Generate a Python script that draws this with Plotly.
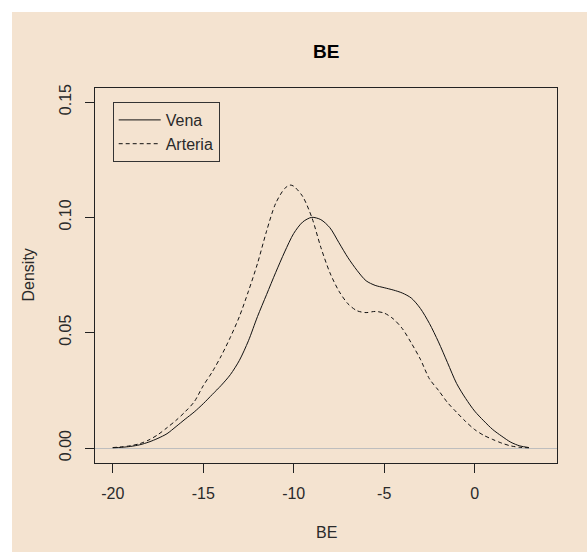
import plotly.graph_objects as go

# ---- data ----
vena_x = [-20, -19.5, -19, -18.5, -18, -17.5, -17, -16.5, -16, -15.5, -15, -14.5, -14, -13.5,
          -13, -12.5, -12, -11.5, -11, -10.5, -10, -9.5, -9, -8.5, -8, -7.5, -7, -6.5, -6,
          -5.5, -5, -4.5, -4, -3.5, -3, -2.5, -2, -1.5, -1, -0.5, 0, 0.5, 1, 1.5, 2, 2.5, 3]
vena_y = [0.0001, 0.0003, 0.0007, 0.0014, 0.0026, 0.0042, 0.0062, 0.0093, 0.0125, 0.0156,
          0.0192, 0.0232, 0.0272, 0.0318, 0.0380, 0.0465, 0.0570, 0.0665, 0.0760, 0.0850,
          0.0930, 0.0980, 0.1000, 0.0990, 0.0955, 0.0890, 0.0825, 0.0770, 0.0725, 0.0705,
          0.0695, 0.0685, 0.0672, 0.0650, 0.0605, 0.0540, 0.0460, 0.0370, 0.0280, 0.0215,
          0.0160, 0.0118, 0.0080, 0.0051, 0.0025, 0.0009, 0.0002]

arteria_x = [-20, -19.5, -19, -18.5, -18, -17.5, -17, -16.5, -16, -15.5, -15, -14.5, -14, -13.5,
             -13, -12.5, -12, -11.5, -11, -10.5, -10.2, -10, -9.5, -9, -8.5, -8, -7.5, -7, -6.5,
             -6, -5.5, -5, -4.5, -4, -3.5, -3, -2.5, -2, -1.5, -1, -0.5, 0, 0.5, 1, 1.5, 2,
             2.5, 3]
arteria_y = [0.0002, 0.0005, 0.0010, 0.0019, 0.0035, 0.0058, 0.0088, 0.0120, 0.0157, 0.0200,
             0.0270, 0.0330, 0.0400, 0.0480, 0.0570, 0.0680, 0.0800, 0.0940, 0.1060, 0.1125,
             0.1140, 0.1135, 0.1090, 0.1000, 0.0870, 0.0760, 0.0680, 0.0625, 0.0595, 0.0587,
             0.0592, 0.0585, 0.0560, 0.0518, 0.0455, 0.0385, 0.0300, 0.0250, 0.0197, 0.0155,
             0.0115, 0.0080, 0.0055, 0.0037, 0.0021, 0.0009, 0.0003, 0.0001]

x_ticks = [-20, -15, -10, -5, 0]
x_tick_text = ["-20", "-15", "-10", "-5", "0"]
y_ticks = [0.00, 0.05, 0.10, 0.15]
y_tick_text = ["0.00", "0.05", "0.10", "0.15"]

title_text = "BE"
x_label = "BE"
y_label = "Density"
series_names = ["Vena", "Arteria"]

# ---- styling ----
BG = "#F4E3D0"
FONT = "Liberation Sans, Arial, sans-serif"
TXT = "#2a2a2a"
W, H = 587, 552
L, R, T, B = 95, 30, 88, 89
pw, ph = W - L - R, H - T - B

fig = go.Figure()
fig.add_trace(go.Scatter(x=vena_x, y=vena_y, mode="lines", name=series_names[0],
                         line=dict(color="#111", width=1, shape="spline", smoothing=0.8)))
fig.add_trace(go.Scatter(x=arteria_x, y=arteria_y, mode="lines", name=series_names[1],
                         line=dict(color="#111", width=1, dash="4px,3px", shape="spline",
                                   smoothing=0.8)))

axis_common = dict(showline=True, linecolor="#222", linewidth=1, mirror=True,
                   ticks="outside", ticklen=9, tickcolor="#222", tickwidth=1,
                   showgrid=False, tickfont=dict(family=FONT, size=16, color=TXT))

fig.update_xaxes(range=[-20.98, 4.55], tickvals=x_ticks, ticktext=x_tick_text, zeroline=False,
                 ticklabelstandoff=7, **axis_common)
fig.update_yaxes(range=[-0.0065, 0.15607], tickvals=y_ticks, ticktext=y_tick_text,
                 tickangle=-90, zeroline=True, zerolinecolor="#bebebe", zerolinewidth=1,
                 ticklabelstandoff=8, **axis_common)

fig.add_shape(type="rect", xref="paper", yref="paper", layer="below",
              x0=(12 - L) / pw, x1=(W + 5 - L) / pw,
              y0=-(B + 5) / ph, y1=(H - B - 12) / ph,
              fillcolor=BG, line=dict(width=0))

fig.add_annotation(text="<b>" + title_text + "</b>", xref="paper", yref="paper",
                   x=0.5, y=1, yshift=37, showarrow=False, xanchor="center", yanchor="middle",
                   font=dict(family=FONT, size=19, color="#000"))
fig.add_annotation(text=x_label, xref="paper", yref="paper", x=0.5, y=0, yshift=-69,
                   showarrow=False, xanchor="center", yanchor="middle",
                   font=dict(family=FONT, size=16, color=TXT))
fig.add_annotation(text=y_label, xref="paper", yref="paper", x=0, xshift=-67, y=0.5,
                   textangle=-90, showarrow=False, xanchor="center", yanchor="middle",
                   font=dict(family=FONT, size=16, color=TXT))

fig.update_layout(
    width=W, height=H,
    margin=dict(l=L, r=R, t=T, b=B),
    paper_bgcolor="white", plot_bgcolor="rgba(0,0,0,0)",
    showlegend=True,
    legend=dict(x=(112.7 - L) / pw, y=1 - (102 - T) / ph, xanchor="left", yanchor="top",
                bgcolor="rgba(0,0,0,0)", bordercolor="#333", borderwidth=1,
                font=dict(family=FONT, size=16, color=TXT),
                itemwidth=42, tracegroupgap=0),
)

fig.write_html("out.html")
